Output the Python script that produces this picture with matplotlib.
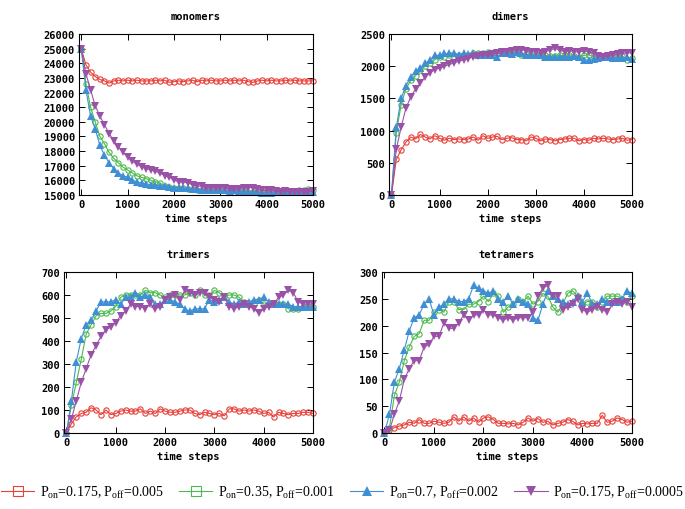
import matplotlib
matplotlib.use('Agg')
import matplotlib.pyplot as plt
from matplotlib.lines import Line2D

# time axis: one sample every 100 steps
steps = list(range(0, 5001, 100))

# monomers
mono_red = [25000, 23900, 23400, 23100, 22900, 22800, 22650, 22800, 22850, 22800,
            22850, 22800, 22850, 22800, 22800, 22800, 22850, 22800, 22850, 22700,
            22750, 22800, 22750, 22800, 22850, 22750, 22850, 22800, 22850, 22800,
            22800, 22850, 22800, 22850, 22800, 22850, 22750, 22700, 22800, 22850,
            22800, 22850, 22800, 22800, 22850, 22800, 22850, 22800, 22800, 22800, 22800]
mono_green = [25000, 22600, 21000, 20000, 19000, 18500, 17900, 17500, 17200, 16900,
              16700, 16500, 16300, 16200, 16100, 16000, 15900, 15800, 15600, 15550,
              15500, 15500, 15450, 15400, 15400, 15350, 15300, 15300, 15300, 15300,
              15300, 15300, 15250, 15300, 15250, 15250, 15200, 15200, 15200, 15200,
              15200, 15200, 15200, 15200, 15200, 15250, 15250, 15300, 15300, 15400, 15300]
mono_blue = [25000, 22200, 20400, 19500, 18400, 17700, 17200, 16800, 16500, 16300,
             16200, 16000, 15900, 15800, 15750, 15700, 15650, 15600, 15600, 15550,
             15500, 15500, 15450, 15450, 15400, 15400, 15350, 15350, 15350, 15300,
             15300, 15300, 15250, 15300, 15250, 15250, 15200, 15200, 15200, 15150,
             15150, 15150, 15200, 15200, 15200, 15200, 15200, 15200, 15200, 15200, 15200]
mono_purple = [25000, 23300, 22200, 21100, 20400, 19800, 19200, 18700, 18300, 17900,
               17600, 17300, 17100, 16900, 16800, 16700, 16600, 16500, 16300, 16200,
               16000, 15900, 15900, 15800, 15700, 15600, 15600, 15500, 15500, 15500,
               15500, 15450, 15400, 15400, 15400, 15500, 15500, 15500, 15400, 15300,
               15300, 15300, 15250, 15200, 15250, 15200, 15200, 15200, 15200, 15200, 15250]

# dimers
di_red = [0, 550, 700, 820, 900, 870, 940, 900, 870, 920,
          880, 850, 880, 860, 870, 860, 870, 900, 850, 920,
          880, 900, 910, 860, 880, 890, 860, 860, 840, 900,
          880, 840, 870, 860, 840, 860, 870, 880, 880, 840,
          860, 850, 880, 870, 880, 870, 860, 870, 880, 850, 860]
di_green = [0, 970, 1400, 1650, 1780, 1850, 1950, 2000, 2050, 2100,
            2150, 2150, 2180, 2150, 2180, 2170, 2180, 2200, 2200, 2210,
            2220, 2210, 2200, 2200, 2210, 2220, 2210, 2180, 2190, 2180,
            2170, 2180, 2170, 2160, 2160, 2170, 2170, 2180, 2160, 2150,
            2170, 2180, 2150, 2150, 2140, 2150, 2140, 2150, 2160, 2100, 2130]
di_blue = [0, 1050, 1500, 1700, 1830, 1930, 1970, 2050, 2100, 2170,
           2170, 2200, 2200, 2210, 2180, 2200, 2190, 2200, 2180, 2170,
           2170, 2180, 2150, 2200, 2200, 2190, 2220, 2200, 2180, 2170,
           2180, 2170, 2150, 2150, 2140, 2150, 2150, 2140, 2160, 2150,
           2100, 2100, 2120, 2130, 2140, 2150, 2130, 2130, 2130, 2140, 2120]
di_purple = [0, 710, 1050, 1350, 1520, 1650, 1740, 1830, 1900, 1950,
             1970, 2000, 2030, 2050, 2080, 2100, 2120, 2150, 2160, 2170,
             2180, 2190, 2200, 2220, 2230, 2240, 2250, 2260, 2240, 2230,
             2220, 2200, 2230, 2250, 2280, 2250, 2230, 2240, 2230, 2220,
             2240, 2230, 2200, 2160, 2150, 2160, 2180, 2190, 2200, 2210, 2210]

# trimers
tri_red = [0, 40, 70, 85, 90, 110, 100, 80, 100, 80,
           85, 95, 100, 95, 95, 105, 85, 95, 85, 105,
           95, 90, 90, 95, 100, 100, 85, 80, 90, 85,
           80, 85, 75, 105, 105, 95, 100, 95, 100, 95,
           85, 90, 70, 90, 85, 80, 85, 85, 90, 90, 85]
tri_green = [0, 120, 220, 320, 430, 470, 510, 520, 520, 530,
             550, 590, 600, 600, 600, 600, 620, 610, 610, 600,
             590, 600, 600, 600, 600, 610, 600, 620, 600, 600,
             620, 610, 590, 600, 600, 590, 570, 560, 560, 580,
             560, 560, 560, 560, 560, 540, 540, 540, 550, 550, 550]
tri_blue = [0, 140, 310, 410, 470, 490, 530, 570, 570, 570,
            580, 560, 590, 590, 610, 590, 600, 590, 560, 560,
            580, 580, 570, 560, 540, 530, 540, 540, 540, 580,
            570, 580, 590, 570, 560, 570, 560, 570, 580, 580,
            590, 570, 560, 560, 560, 560, 550, 550, 550, 550, 550]
tri_purple = [0, 60, 140, 220, 280, 340, 380, 420, 450, 460,
              480, 510, 530, 560, 550, 550, 540, 560, 540, 550,
              580, 590, 600, 580, 620, 610, 600, 610, 610, 590,
              580, 570, 590, 550, 540, 550, 560, 550, 540, 520,
              540, 550, 560, 590, 600, 620, 610, 570, 560, 560, 560]

# tetramers
tet_red = [0, 5, 10, 13, 15, 20, 18, 25, 18, 18,
           22, 20, 18, 20, 30, 22, 30, 22, 28, 20,
           28, 30, 25, 18, 18, 17, 18, 15, 20, 28,
           22, 27, 20, 22, 15, 18, 20, 25, 22, 15,
           18, 17, 18, 18, 33, 20, 22, 28, 25, 20, 22]
tet_green = [0, 10, 70, 95, 135, 160, 180, 185, 210, 210,
             225, 230, 225, 245, 245, 230, 230, 240, 240, 245,
             255, 245, 260, 255, 225, 235, 240, 250, 245, 255,
             240, 245, 260, 255, 235, 225, 240, 260, 265, 255,
             240, 245, 245, 235, 245, 255, 255, 255, 250, 245, 255]
tet_blue = [0, 35, 95, 120, 155, 190, 215, 220, 240, 250,
            220, 235, 240, 250, 250, 245, 245, 250, 275, 270,
            265, 260, 265, 250, 245, 255, 240, 250, 245, 240,
            215, 210, 240, 265, 255, 250, 245, 240, 245, 255,
            245, 260, 240, 240, 250, 245, 245, 245, 250, 265, 260]
tet_purple = [0, 5, 35, 60, 100, 120, 135, 135, 160, 165,
              180, 180, 205, 195, 195, 205, 220, 210, 220, 220,
              230, 220, 220, 215, 210, 215, 210, 215, 215, 215,
              225, 255, 270, 275, 255, 255, 230, 235, 240, 250,
              230, 225, 230, 235, 230, 225, 240, 245, 240, 245, 235]

labels = [r'P$_{\rm on}$=0.175, P$_{\rm off}$=0.005',
          r'P$_{\rm on}$=0.35, P$_{\rm off}$=0.001',
          r'P$_{\rm on}$=0.7, P$_{\rm off}$=0.002',
          r'P$_{\rm on}$=0.175, P$_{\rm off}$=0.0005']
colors = ['#e8403a', '#4cba4c', '#3f8fd5', '#9a52a8']

panels = [
    ('monomers', [mono_red, mono_green, mono_blue, mono_purple], (15000, 26000), 1000,
     [0.1153, 0.616, 0.3417, 0.315]),
    ('dimers', [di_red, di_green, di_blue, di_purple], (0, 2500), 500,
     [0.568, 0.616, 0.3546, 0.315]),
    ('trimers', [tri_red, tri_green, tri_blue, tri_purple], (0, 700), 100,
     [0.0934, 0.149, 0.3636, 0.3157]),
    ('tetramers', [tet_red, tet_green, tet_blue, tet_purple], (0, 300), 50,
     [0.5577, 0.149, 0.3649, 0.3157]),
]

mono = {'family': 'DejaVu Sans Mono', 'weight': 'bold', 'size': 7.5}

plt.rcParams['mathtext.fontset'] = 'custom'
plt.rcParams['mathtext.rm'] = 'Liberation Serif'

fig = plt.figure(figsize=(6.85, 5.1), dpi=100)

for title, series, ylim, ystep, rect in panels:
    ax = fig.add_axes(rect)
    styles = [dict(marker='o', mfc='none', ms=3.8, mew=0.8),
              dict(marker='o', mfc='none', ms=3.8, mew=0.8),
              dict(marker='^', ms=5.8, mew=0),
              dict(marker='v', ms=6.2, mew=0)]
    for vals, col, st in zip(series, colors, styles):
        ax.plot(steps, vals, color=col, lw=0.8, clip_on=False, **st)
    ax.set_xlim(-50, 5000)
    ax.set_ylim(*ylim)
    ax.set_xticks(range(0, 5001, 1000))
    ax.set_yticks(range(ylim[0], ylim[1] + 1, ystep))
    ax.tick_params(direction='in', top=True, right=True, length=4, width=0.7, pad=3)
    for lab in ax.get_xticklabels() + ax.get_yticklabels():
        lab.set_fontproperties(mono)
    for sp in ax.spines.values():
        sp.set_linewidth(0.8)
    ax.set_title(title, fontdict=mono, pad=11)
    ax.set_xlabel('time steps', fontdict=mono, labelpad=3)

handles = [Line2D([], [], color=colors[0], lw=0.8, marker='s', mfc='none', ms=7, mew=0.8),
           Line2D([], [], color=colors[1], lw=0.8, marker='s', mfc='none', ms=7, mew=0.8),
           Line2D([], [], color=colors[2], lw=0.8, marker='^', ms=7, mew=0),
           Line2D([], [], color=colors[3], lw=0.8, marker='v', ms=7, mew=0)]
fig.legend(handles, labels, loc='center', bbox_to_anchor=(0.5, 0.033), ncol=4,
           frameon=False, handlelength=2.4, handletextpad=0.4, columnspacing=1.1,
           prop={'family': 'Liberation Serif', 'size': 10})

fig.savefig('out.png', dpi=100)
